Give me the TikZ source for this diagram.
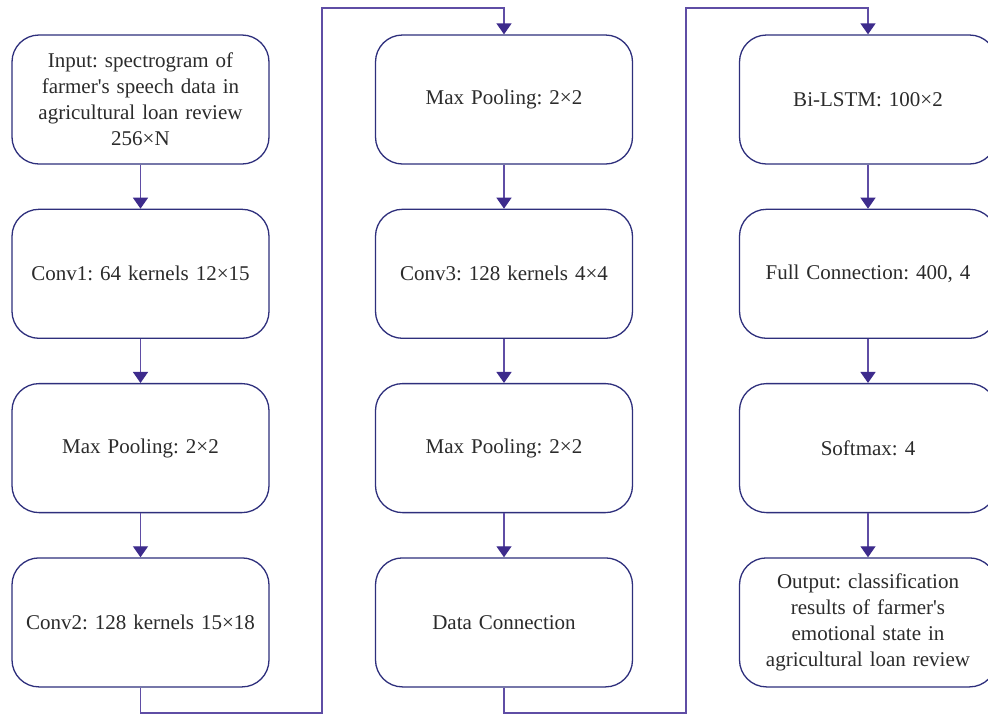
\documentclass[tikz,border=0pt]{standalone}
\usepackage{fontspec}
\setmainfont{Liberation Serif}
\usepackage{xcolor}
\usepackage{tikz}
\usetikzlibrary{arrows,arrows.meta,positioning}
\definecolor{boxline}{HTML}{2E2F7C}
\definecolor{flowline}{HTML}{5F4DA5}
\definecolor{tipfill}{HTML}{3D2B8C}
\definecolor{txt}{HTML}{2B2B2B}
\frenchspacing
\tikzset{
  stage/.style = {rectangle, rounded corners=27pt, draw=boxline, line width=1.3pt, fill=white,
    minimum width=257pt, minimum height=129pt, text width=245pt, align=center,
    text=txt, font=\fontsize{21}{26}\selectfont},
  flow/.style = {draw=flowline, line width=1.4pt, -{Triangle[width=15pt,length=11pt,fill=tipfill,color=tipfill]}},
  node distance=44pt
}
\begin{document}
\begin{tikzpicture}[x=1pt,y=-1pt]
  \clip (0,0) rectangle (988,716);
  \fill[white] (0,0) rectangle (988,716);
  \node [stage] (input) at (140.5,99.5) {Input: spectrogram of\\farmer\textquotesingle s speech data in\\agricultural loan review\\256×N};
  \node [stage, below=of input] (conv1) {Conv1: 64 kernels 12×15};
  \node [stage, below=of conv1] (pool1) {Max Pooling: 2×2};
  \node [stage, below=of pool1] (conv2) {Conv2: 128 kernels 15×18};
  \node [stage] (pool2) at (504,99.5) {Max Pooling: 2×2};
  \node [stage, below=of pool2] (conv3) {Conv3: 128 kernels 4×4};
  \node [stage, below=of conv3] (pool3) {Max Pooling: 2×2};
  \node [stage, below=of pool3] (concat) {Data Connection};
  \node [stage] (bilstm) at (868,99.5) {Bi-LSTM: 100×2};
  \node [stage, below=of bilstm] (fc) {Full Connection: 400, 4};
  \node [stage, below=of fc] (softmax) {Softmax: 4};
  \node [stage, below=of softmax] (output) {Output: classification\\results of farmer\textquotesingle s\\emotional state in\\agricultural loan review};
  \coordinate (lowA) at (322,713);
  \coordinate (highA) at (322,8);
  \coordinate (lowB) at (686,713);
  \coordinate (highB) at (686,8);
  \draw[flow] (input) -- (conv1);
  \draw[flow] (conv1) -- (pool1);
  \draw[flow] (pool1) -- (conv2);
  \draw[flow] (conv2.south) |- (lowA) -- (highA) -| (pool2.north);
  \draw[flow] (pool2) -- (conv3);
  \draw[flow] (conv3) -- (pool3);
  \draw[flow] (pool3) -- (concat);
  \draw[flow] (concat.south) |- (lowB) -- (highB) -| (bilstm.north);
  \draw[flow] (bilstm) -- (fc);
  \draw[flow] (fc) -- (softmax);
  \draw[flow] (softmax) -- (output);
\end{tikzpicture}
\end{document}
